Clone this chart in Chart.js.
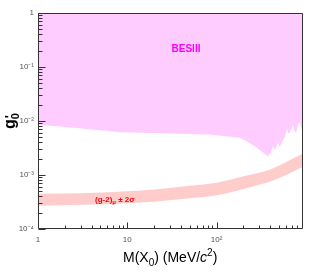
<!DOCTYPE html>
<html>
<head>
<meta charset="UTF-8" />
<title>BESIII X0 coupling limit</title>
<style>
  html, body { margin: 0; padding: 0; background: #fff; }
  canvas { display: block; }
</style>
</head>
<body>
<canvas id="limitChart" width="319" height="277"></canvas>

<script src="https://cdn.jsdelivr.net/npm/chart.js@4"></script>
<script>
// BESIII upper limit on g0' vs M(X0) [MeV/c^2]
const besMass  = [1, 1.76, 3.82, 8.26, 17.9, 38.7, 84, 141, 182, 236, 290, 330, 375, 406, 425, 450, 471, 490, 511, 554, 583, 614, 640, 664, 717, 750, 777, 818, 860, 890, 929];
const besLimit = [0.0085, 0.0079, 0.0070, 0.0062, 0.0060, 0.0058, 0.0056, 0.0051, 0.0049, 0.0039, 0.0031, 0.0026, 0.0022, 0.0026, 0.0034, 0.0029, 0.0035, 0.0039, 0.0033, 0.0045, 0.0050, 0.0072, 0.0058, 0.0062, 0.0085, 0.0065, 0.0060, 0.0088, 0.0095, 0.0070, 0.0085];

// (g-2)_mu +- 2 sigma band
const bandMass = [1, 3, 10, 20, 50, 100, 200, 300, 400, 600, 929];
const bandLow  = [2.7e-4, 2.8e-4, 3.0e-4, 3.2e-4, 3.7e-4, 4.2e-4, 5.5e-4, 6.6e-4, 7.6e-4, 1.0e-3, 1.42e-3];
const bandHigh = [4.5e-4, 4.6e-4, 5.0e-4, 5.4e-4, 6.3e-4, 7.2e-4, 9.5e-4, 1.1e-3, 1.27e-3, 1.75e-3, 2.5e-3];

const xTickValues = [1, 10, 100];
const xTickLabels = ['1', '10', '10²'];
const yTickValues = [1e-4, 1e-3, 1e-2, 1e-1, 1];
const yTickLabels = ['10⁻⁴', '10⁻³', '10⁻²', '10⁻¹', '1'];

const X_MIN = 1, X_MAX = 929;
const Y_MIN = 1e-4, Y_MAX = 1;

function toPoints(xs, ys) {
  return xs.map((x, i) => ({x: x, y: ys[i]}));
}

// ROOT-like frame: inner ticks, box and text labels
const rootFrame = {
  id: 'rootFrame',
  afterDraw(chart) {
    const ctx = chart.ctx;
    const a = chart.chartArea;
    const xs = chart.scales.x, ys = chart.scales.y;
    ctx.save();
    ctx.strokeStyle = '#333';
    ctx.lineWidth = 1;

    // frame
    const L = Math.round(a.left) + 0.5, R = Math.round(a.right) - 0.5;
    const T = Math.round(a.top) + 0.5, B = Math.round(a.bottom) - 0.5;
    ctx.beginPath();
    ctx.moveTo(L, T); ctx.lineTo(R, T); ctx.lineTo(R, B); ctx.lineTo(L, B); ctx.closePath();
    ctx.stroke();

    // y ticks
    ctx.beginPath();
    for (let e = -4; e <= 0; e++) {
      const d = Math.pow(10, e);
      for (let k = 1; k <= 9; k++) {
        const v = d * k;
        if (v > Y_MAX) break;
        const py = Math.round(ys.getPixelForValue(v)) + 0.5;
        const len = k === 1 ? 7 : 4;
        ctx.moveTo(L, py); ctx.lineTo(L + len, py);
      }
    }
    // x ticks
    for (let e = 0; e <= 2; e++) {
      const d = Math.pow(10, e);
      for (let k = 1; k <= 9; k++) {
        const v = d * k;
        if (v > X_MAX) break;
        const px = Math.round(xs.getPixelForValue(v)) + 0.5;
        const len = k === 1 ? 6 : 3;
        ctx.moveTo(px, B); ctx.lineTo(px, B - len);
      }
    }
    ctx.stroke();

    // BESIII label
    ctx.fillStyle = '#ff00ff';
    ctx.font = 'bold 10px "Liberation Sans", Arial, sans-serif';
    ctx.textAlign = 'center';
    ctx.textBaseline = 'middle';
    ctx.fillText('BESIII', 186, 49);

    // (g-2)_mu +- 2 sigma label
    ctx.fillStyle = '#ff0000';
    ctx.textAlign = 'left';
    ctx.textBaseline = 'alphabetic';
    let x0 = 95, y0 = 202;
    ctx.font = 'bold 8px "Liberation Sans", Arial, sans-serif';
    ctx.fillText('(g-2)', x0, y0);
    x0 += ctx.measureText('(g-2)').width;
    ctx.font = 'bold 6px "Liberation Sans", Arial, sans-serif';
    ctx.fillText('μ', x0, y0 + 2);
    x0 += ctx.measureText('μ').width;
    ctx.font = 'bold 8px "Liberation Sans", Arial, sans-serif';
    ctx.fillText(' ± 2σ', x0, y0);

    // x title
    ctx.fillStyle = '#000';
    const big = '14px "Liberation Sans", Arial, sans-serif';
    const small = '10px "Liberation Sans", Arial, sans-serif';
    let tx = 123, ty = 262;
    const parts = [
      ['M(X', big, 0], ['0', small, 4], [') (MeV/', big, 0],
      ['c', 'italic ' + big, 0], ['2', small, -6], [')', big, 0]
    ];
    parts.forEach(p => {
      ctx.font = p[1];
      ctx.fillText(p[0], tx, ty + p[2]);
      tx += ctx.measureText(p[0]).width;
    });

    // y title (rotated): g, subscript 0, prime
    ctx.translate(15, 129);
    ctx.rotate(-Math.PI / 2);
    ctx.font = 'bold 16px "Liberation Sans", Arial, sans-serif';
    ctx.fillText('g', 0, 0);
    let gx = ctx.measureText('g').width;
    ctx.font = 'bold 11px "Liberation Sans", Arial, sans-serif';
    ctx.fillText('0', gx, 4);
    ctx.font = 'bold 13px "Liberation Sans", Arial, sans-serif';
    ctx.fillText('\'', gx + 1, -1);
    ctx.restore();
  }
};

const ctx = document.getElementById('limitChart').getContext('2d');
new Chart(ctx, {
  type: 'line',
  data: {
    datasets: [
      {
        label: 'BESIII',
        data: toPoints(besMass, besLimit),
        fill: 'end',
        backgroundColor: '#ffccff',
        borderWidth: 0,
        pointRadius: 0,
        tension: 0
      },
      {
        label: 'g-2 high',
        data: toPoints(bandMass, bandHigh),
        fill: '+1',
        backgroundColor: '#ffcccc',
        borderWidth: 0,
        pointRadius: 0,
        cubicInterpolationMode: 'monotone'
      },
      {
        label: 'g-2 low',
        data: toPoints(bandMass, bandLow),
        fill: false,
        borderWidth: 0,
        pointRadius: 0,
        cubicInterpolationMode: 'monotone'
      }
    ]
  },
  options: {
    responsive: false,
    animation: false,
    events: [],
    layout: {padding: {left: 0, right: 16, top: 13, bottom: 0}},
    plugins: {legend: {display: false}, tooltip: {enabled: false}},
    scales: {
      x: {
        type: 'logarithmic',
        min: X_MIN, max: X_MAX,
        grid: {display: false, drawTicks: false},
        border: {display: false},
        afterBuildTicks: s => { s.ticks = xTickValues.map(v => ({value: v})); },
        afterFit: s => { s.height = 48; },
        ticks: {
          autoSkip: false, maxRotation: 0, padding: 6,
          color: '#555',
          font: {size: 8, family: '"Liberation Sans", Arial, sans-serif'},
          callback: (v, i) => xTickLabels[i]
        }
      },
      y: {
        type: 'logarithmic',
        min: Y_MIN, max: Y_MAX,
        grid: {display: false, drawTicks: false},
        border: {display: false},
        afterBuildTicks: s => { s.ticks = yTickValues.map(v => ({value: v})); },
        afterFit: s => { s.width = 38; },
        ticks: {
          autoSkip: false, padding: 4,
          color: '#555',
          font: {size: 8, family: '"Liberation Sans", Arial, sans-serif'},
          callback: (v, i) => yTickLabels[i]
        }
      }
    }
  },
  plugins: [rootFrame]
});
</script>
</body>
</html>
